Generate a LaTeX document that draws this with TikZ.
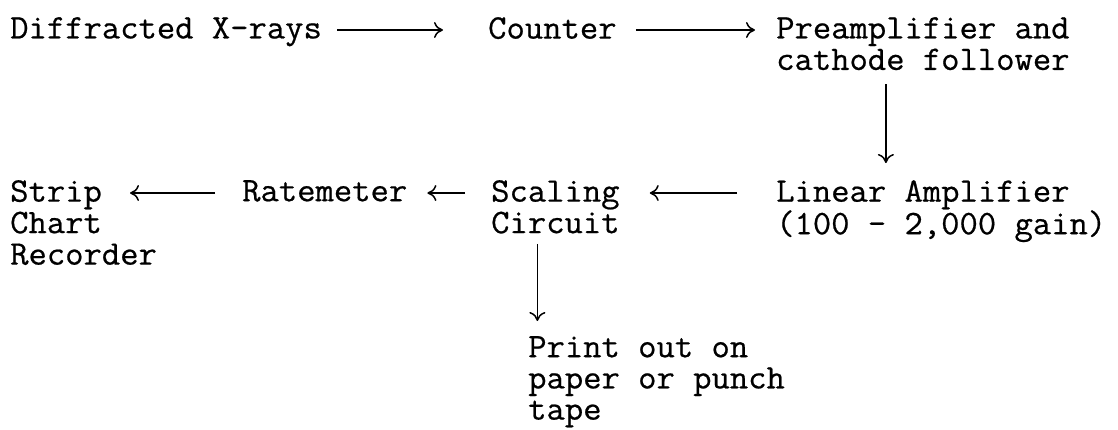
\documentclass[tikz,border=0pt]{standalone}
\usepackage{fontspec}
\setmonofont[FakeStretch=1.035,FakeBold=0.6]{Latin Modern Mono}
\usetikzlibrary{arrows.meta}

\begin{document}
\begin{tikzpicture}[x=1pt,y=-1pt,
  stage/.style={anchor=north west,inner sep=0pt,align=left,
    font=\ttfamily\fontsize{34.4}{31.5}\selectfont},
  flow/.style={line width=1.5pt,-{To[length=9pt,width=16pt]}}]
\useasboundingbox (0,0) rectangle (1118,429);
% counting chain, first row
\node[stage] (xrays) at (10,17) {Diffracted X-rays};
\node[stage] (counter) at (488,17) {Counter};
\node[stage] (preamp) at (776,17) {Preamplifier and\\cathode follower};
% second row
\node[stage] (linear) at (776,180) {Linear Amplifier\\(100 - 2,000 gain)};
\node[stage] (scaling) at (491,180) {Scaling\\Circuit};
\node[stage] (ratemeter) at (242,180) {Ratemeter};
\node[stage] (recorder) at (10,180) {Strip\\Chart\\Recorder};
\node[stage,font=\ttfamily\fontsize{34.4}{31.2}\selectfont]
  (printout) at (528,336) {Print out on\\paper or punch\\tape};
% arrows along the rows
\draw[flow,shorten <=15pt,shorten >=45pt]
  ([yshift=-13pt]xrays.north east) -- ([yshift=-13pt]counter.north west);
\draw[flow,shorten <=19pt,shorten >=21pt]
  ([yshift=-13pt]counter.north east) -- ([yshift=-13pt]preamp.north west);
\draw[flow,shorten <=39pt,shorten >=30pt]
  ([yshift=-13pt]linear.north west) -- ([yshift=-13pt]scaling.north east);
\draw[flow,shorten <=26pt,shorten >=20pt]
  ([yshift=-13pt]scaling.north west) -- ([yshift=-13pt]ratemeter.north east);
\draw[flow,shorten <=27pt,shorten >=120pt]
  ([yshift=-13pt]ratemeter.north west) -- ([yshift=-13pt]recorder.north west);
% arrows going down
\draw[flow,shorten <=14pt,shorten >=17pt]
  ([xshift=-37pt]preamp.south) -- ([xshift=-37pt]preamp.south |- linear.north);
\draw[flow,shorten <=10pt,shorten >=15pt]
  ([xshift=-18pt]scaling.south) -- ([xshift=-18pt]scaling.south |- printout.north);
\end{tikzpicture}
\end{document}
